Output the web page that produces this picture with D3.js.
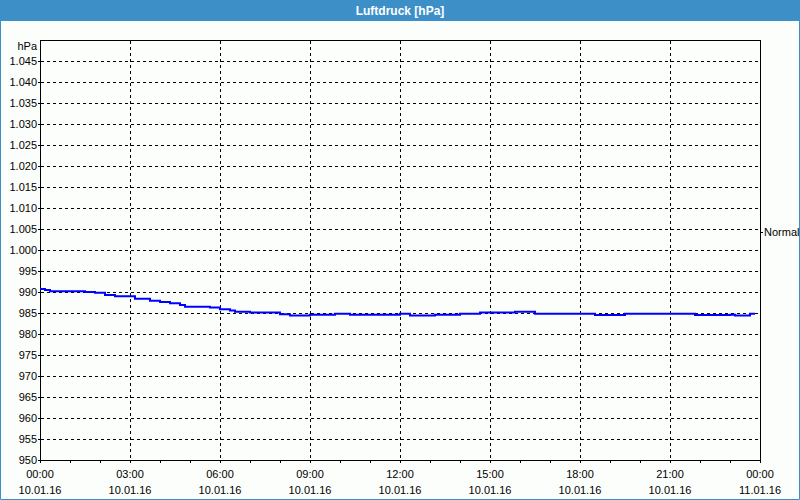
<!DOCTYPE html>
<html>
<head>
<meta charset="utf-8">
<script src="https://cdn.jsdelivr.net/npm/d3@7"></script>
<style>
  html, body { margin: 0; padding: 0; background: #fcfefc; }
  svg { display: block; }
  text { font-family: "Liberation Sans", Arial, sans-serif; font-size: 11px; fill: #000; }
</style>
</head>
<body>
<svg id="chart" width="800" height="500"></svg>
<script>
// ---- data ----
const title = "Luftdruck [hPa]";
const unitLabel = "hPa";
const startDate = "2016-01-10T00:00";
const endDate = "2016-01-11T00:00";
// change points of the stepped pressure trace (time of day, hPa)
const times = ["00:00","00:10","00:20","01:30","01:50","02:10","02:30","03:10","03:40","04:00",
               "04:20","04:40","04:50","05:40","06:00","06:20","06:30","07:00","08:00","08:20",
               "09:00","09:50","10:20","12:00","12:20","13:10","14:00","14:40","15:50","16:30",
               "18:30","19:30","21:50","23:00","23:10","23:40","23:50"];
const pressure = [990.7,990.5,990.2,990.0,989.8,989.3,989.0,988.4,987.9,987.6,
                  987.3,986.9,986.5,986.3,985.9,985.6,985.3,985.1,984.7,984.4,
                  984.6,984.8,984.6,984.8,984.4,984.6,984.8,985.1,985.3,984.8,
                  984.5,984.8,984.5,984.6,984.4,984.8,984.8];
const yTicks = [950,955,960,965,970,975,980,985,990,995,1000,1005,1010,1015,1020,1025,1030,1035,1040,1045];
const yDomain = [950, 1050];
const normalLabel = "Normal";
const normalLevel = 1004.3;

// ---- drawing ----
const W = 800, H = 500;
const m = { left: 40, right: 40, top: 40, bottom: 40 };
const svg = d3.select("#chart");

// title bar
svg.append("rect").attr("x", 0).attr("y", 0).attr("width", W).attr("height", 21).attr("fill", "#3c8fc7");
svg.append("text").attr("x", W / 2).attr("y", 14.5).attr("text-anchor", "middle")
  .style("font-weight", "bold").style("font-size", "12px").style("fill", "#fff").text(title);
// outer frame
svg.append("path").attr("d", `M0.5,21 V${H - 0.5} H${W - 0.5} V21`)
  .attr("fill", "none").attr("stroke", "#3c8fc7").attr("stroke-width", 1);

const parse = d3.timeParse("%Y-%m-%dT%H:%M");
const t0 = parse(startDate), t1 = parse(endDate);
const x = d3.scaleTime().domain([t0, t1]).range([m.left, W - m.right]);
const y = d3.scaleLinear().domain(yDomain).range([H - m.bottom, m.top]);

const px = v => Math.round(v) + 0.5;
const fmtY = v => v >= 1000 ? d3.format(",")(v).replace(",", ".") : String(v);

const grid = svg.append("g").attr("stroke", "#000").attr("stroke-width", 1).attr("stroke-dasharray", "3,3");
// horizontal grid
grid.selectAll("line.h").data(yTicks.filter(v => v > yDomain[0])).join("line")
  .attr("x1", m.left + 1).attr("x2", W - m.right)
  .attr("y1", d => px(y(d))).attr("y2", d => px(y(d)));
// vertical grid every 3h
const major = d3.timeHour.every(3).range(t0, t1).filter(d => +d > +t0);
grid.selectAll("line.v").data(major).join("line")
  .attr("x1", d => px(x(d))).attr("x2", d => px(x(d)))
  .attr("y1", m.top + 1).attr("y2", H - m.bottom);

// frame
svg.append("rect").attr("x", m.left + 0.5).attr("y", m.top + 0.5)
  .attr("width", W - m.left - m.right).attr("height", H - m.top - m.bottom)
  .attr("fill", "none").attr("stroke", "#000");

// y axis
const yAxis = svg.append("g");
yAxis.selectAll("line").data(yTicks).join("line")
  .attr("x1", m.left - 2).attr("x2", m.left).attr("y1", d => px(y(d))).attr("y2", d => px(y(d)))
  .attr("stroke", "#000");
yAxis.selectAll("text").data(yTicks).join("text")
  .attr("x", m.left - 3).attr("y", d => y(d) + 4).attr("text-anchor", "end").text(fmtY);
svg.append("text").attr("x", m.left - 3).attr("y", 50).attr("text-anchor", "end").text(unitLabel);

// x axis ticks (hourly) and labels (every 3h)
const hours = d3.timeHour.every(1).range(t0, d3.timeMinute.offset(t1, 1));
svg.append("g").selectAll("line").data(hours).join("line")
  .attr("x1", d => px(x(d))).attr("x2", d => px(x(d)))
  .attr("y1", H - m.bottom).attr("y2", H - m.bottom + 3).attr("stroke", "#000");
const labels = d3.timeHour.every(3).range(t0, d3.timeMinute.offset(t1, 1));
const xl = svg.append("g").selectAll("g").data(labels).join("g")
  .attr("transform", d => `translate(${x(d)},0)`);
xl.append("text").attr("y", 478).attr("text-anchor", "middle").text(d3.timeFormat("%H:%M"));
xl.append("text").attr("y", 494).attr("text-anchor", "middle").text(d3.timeFormat("%d.%m.%y"));

// normal marker
svg.append("line").attr("x1", W - m.right).attr("x2", W - m.right + 3)
  .attr("y1", px(y(normalLevel))).attr("y2", px(y(normalLevel))).attr("stroke", "#000");
svg.append("text").attr("x", W - m.right + 4).attr("y", y(normalLevel) + 4).text(normalLabel);

// pressure trace
const dayFmt = d3.timeFormat("%Y-%m-%d");
const data = times.map((t, i) => ({ t: parse(dayFmt(t0) + "T" + t), v: pressure[i] }));
const line = d3.line().x(d => x(d.t)).y(d => y(d.v)).curve(d3.curveStepAfter);
svg.append("path").datum(data).attr("d", line)
  .attr("fill", "none").attr("stroke", "#0000ff").attr("stroke-width", 2);
</script>
</body>
</html>
